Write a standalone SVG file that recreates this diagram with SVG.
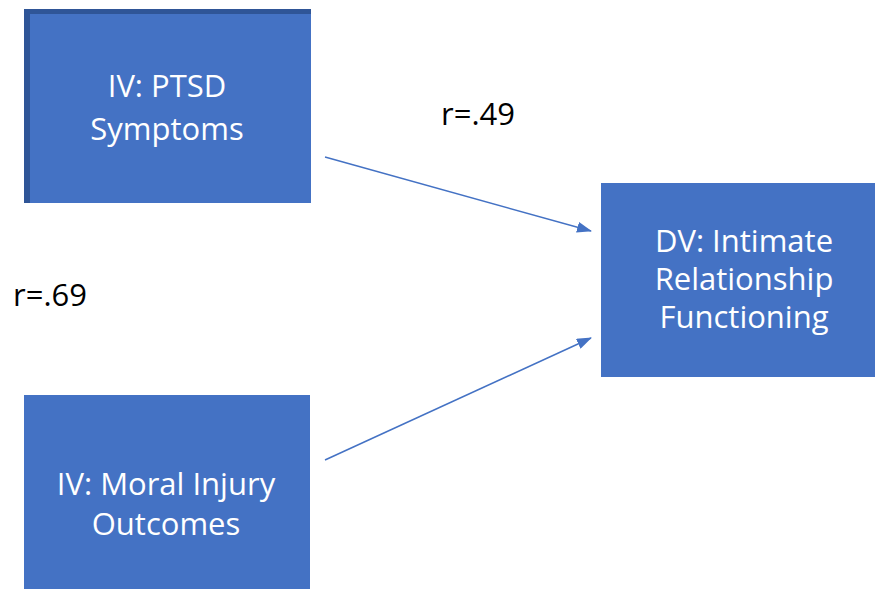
<svg xmlns="http://www.w3.org/2000/svg" width="875" height="589" viewBox="0 0 875 589">
<defs>
<style>
.box{fill:#4472C4;}
.edge{fill:#2F5597;}
.t{font-family:"Open Sans","Liberation Sans",sans-serif;font-size:31px;fill:#FFFFFF;text-anchor:middle;}
.lbl{font-family:"Open Sans","Liberation Sans",sans-serif;font-size:31px;fill:#000000;}
.conn{stroke:#4472C4;stroke-width:1.5;fill:none;}
</style>
<marker id="ah" viewBox="0 0 15 11" refX="14" refY="5.5" markerWidth="15" markerHeight="11" markerUnits="userSpaceOnUse" orient="auto">
<path d="M0,0 L15,5.5 L0,11 Z" fill="#4472C4"/>
</marker>
</defs>
<rect width="875" height="589" fill="#FFFFFF"/>
<g id="node-ptsd">
<rect class="box" x="24" y="9" width="287" height="194"/>
<rect class="edge" x="24" y="9" width="287" height="5"/>
<rect class="edge" x="24" y="9" width="6" height="194"/>
<text class="t" x="167" y="97">IV: PTSD</text>
<text class="t" x="167" y="140">Symptoms</text>
</g>
<g id="node-moral">
<rect class="box" x="24" y="395" width="286" height="194"/>
<text class="t" x="166" y="495">IV: Moral Injury</text>
<text class="t" x="166" y="535">Outcomes</text>
</g>
<g id="node-dv">
<rect class="box" x="601" y="183" width="274" height="194"/>
<text class="t" x="744" y="252">DV: Intimate</text>
<text class="t" x="744" y="290">Relationship</text>
<text class="t" x="744" y="328">Functioning</text>
</g>
<g id="connectors">
<line class="conn" x1="325" y1="157" x2="591" y2="231" marker-end="url(#ah)"/>
<line class="conn" x1="325" y1="460" x2="591" y2="338" marker-end="url(#ah)"/>
</g>
<g id="labels">
<text class="lbl" x="441" y="125">r=.49</text>
<text class="lbl" x="13" y="306">r=.69</text>
</g>
</svg>
